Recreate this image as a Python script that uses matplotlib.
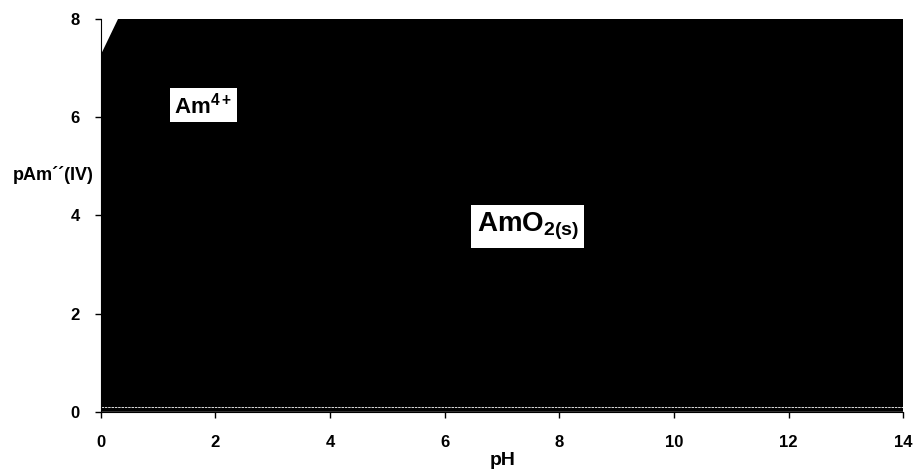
import numpy as np
import matplotlib.pyplot as plt

plt.rcParams['font.family'] = ['Liberation Sans', 'DejaVu Sans']
plt.rcParams['mathtext.fontset'] = 'custom'
plt.rcParams['mathtext.rm'] = 'Liberation Sans:bold'
plt.rcParams['mathtext.bf'] = 'Liberation Sans:bold'
plt.rcParams['mathtext.default'] = 'rm'

# boundary Am4+ / AmO2(s)
ph_line = [0.0, 0.33]
pam_line = [7.2, 8.0]

x_ticks = [0, 2, 4, 6, 8, 10, 12, 14]
y_ticks = [0, 2, 4, 6, 8]

fig = plt.figure(figsize=(9.16, 4.69), dpi=100)
ax = fig.add_axes([0.110, 0.122, 0.876, 0.838])

# solid region below the boundary
ph_fill = [0.0, ph_line[0], ph_line[1], 14.0, 14.0]
pam_fill = [0.0, pam_line[0], pam_line[1], 8.0, 0.0]
ax.fill(ph_fill, pam_fill, color='black', lw=0)
ax.plot(ph_line, pam_line, color='black', lw=2)
ax.plot([0, 14], [0.1, 0.1], color='white', lw=0.6, ls=(0, (3, 1)))

ax.set_xlim(0, 14)
ax.set_ylim(0, 8)
ax.set_xticks(x_ticks)
ax.set_yticks(y_ticks)
for s in ['top', 'right']:
    ax.spines[s].set_visible(False)
ax.tick_params(direction='out', length=4, width=1, labelsize=12, pad=13)
ax.tick_params(axis='y', pad=11)
for lab in ax.get_xticklabels() + ax.get_yticklabels():
    lab.set_fontweight('bold')

fig.text(0.058, 1 - 175 / 469, "pAm´´(IV)", ha='center', va='center',
         fontsize=13, fontweight='bold')
fig.text(503 / 916, 1 - 460 / 469, "pH", ha='center', va='center',
         fontsize=14, fontweight='bold')

ax.text(1.79, 6.24, "Am$^{4+}$", ha='center', va='center', fontsize=16,
        fontweight='bold',
        bbox=dict(facecolor='white', edgecolor='none', pad=3))
ax.text(7.45, 3.77, "AmO$_{2(s)}$", ha='center', va='center', fontsize=20,
        fontweight='bold',
        bbox=dict(facecolor='white', edgecolor='none', pad=4))

plt.savefig("out.png", dpi=100)
